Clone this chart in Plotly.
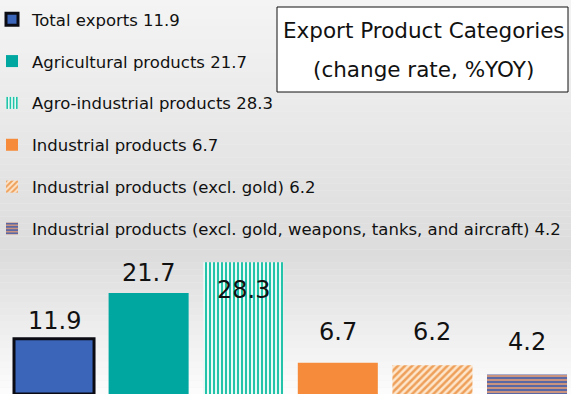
import plotly.graph_objects as go

categories = ["Total exports", "Agricultural products", "Agro-industrial products",
              "Industrial products", "Industrial products (excl. gold)",
              "Industrial products (excl. gold, weapons, tanks, and aircraft)"]
values = [11.9, 21.7, 28.3, 6.7, 6.2, 4.2]
title_lines = ["Export Product Categories", "(change rate, %YOY)"]

# styles
fills = ["#3a65b8", "#00a7a1", "#22c3a9", "#f68b3c", "#f2a55c", "#5a68a6"]
patterns = [None,
            None,
            dict(shape="|", fgcolor="#22c3a9", bgcolor="#ffffff", size=4, solidity=0.55, fillmode="replace"),
            None,
            dict(shape="/", fgcolor="#eea05a", bgcolor="#fde6cc", size=5, solidity=0.5, fillmode="replace"),
            dict(shape="-", fgcolor="#5a68a6", bgcolor="#c9937f", size=4, solidity=0.5, fillmode="replace")]
line_colors = ["#0b0b14", "#00a7a1", "#22c3a9", "#f68b3c", "#f2c49a", "#c9937f"]
line_widths = [3, 0, 0, 0, 0, 0]
label_shift = [18, 20, -28, 31, 33, 32]

W, H = 571, 394

fig = go.Figure()
for i, (c, v) in enumerate(zip(categories, values)):
    marker = dict(color=fills[i], line=dict(color=line_colors[i], width=line_widths[i]))
    if patterns[i]:
        marker["pattern"] = patterns[i]
    fig.add_trace(go.Bar(x=[i], y=[v], name=f"{c} {v}", width=0.846, marker=marker,
                         legendgroup=f"g{i}", hoverinfo="skip"))

# background gradient
shapes = []
n = 60
for k in range(n):
    t = k / (n - 1)  # 0 top -> 1 bottom
    if t < 0.65:
        g = 244 - (244 - 220) * (t / 0.65)
    else:
        g = 220 + (252 - 220) * ((t - 0.65) / 0.35)
    g = int(round(g))
    shapes.append(dict(type="rect", xref="paper", yref="paper", x0=0, x1=1,
                       y0=1 - (k + 1) / n, y1=1 - k / n, line=dict(width=0),
                       fillcolor=f"rgb({g},{g},{g})", layer="below"))
# title box
shapes.append(dict(type="rect", xref="paper", yref="paper",
                   x0=277 / W, x1=568 / W, y0=1 - 92 / H, y1=1 - 7 / H,
                   line=dict(color="#111111", width=1), fillcolor="#ffffff", layer="above"))

annotations = []
for txt, yy in zip(title_lines, [30, 70]):
    annotations.append(dict(xref="paper", yref="paper", x=424 / W, y=1 - yy / H, text=txt,
                            xanchor="center", yanchor="middle", showarrow=False,
                            font=dict(family="DejaVu Sans", size=21.5, color="#111111")))
for i, v in enumerate(values):
    annotations.append(dict(x=i, y=v, text=f"{v}", showarrow=False, yanchor="middle",
                            xanchor="center", yshift=label_shift[i],
                            font=dict(family="DejaVu Sans", size=24, color="#111111")))

fig.update_layout(
    width=W, height=H, margin=dict(l=0, r=0, t=0, b=0, autoexpand=False),
    paper_bgcolor="#f0f0f0", plot_bgcolor="rgba(0,0,0,0)",
    xaxis=dict(range=[-0.571, 5.465], visible=False, fixedrange=True),
    yaxis=dict(range=[0, 84.7], visible=False, fixedrange=True),
    showlegend=True,
    legend=dict(x=0, y=1 - 2 / H, xanchor="left", yanchor="top", bgcolor="rgba(0,0,0,0)",
                font=dict(family="DejaVu Sans", size=16.5, color="#111111"),
                tracegroupgap=17.4, indentation=-8, itemclick=False, itemdoubleclick=False),
    shapes=shapes, annotations=annotations, barmode="overlay",
)

fig.write_html("out.html")
